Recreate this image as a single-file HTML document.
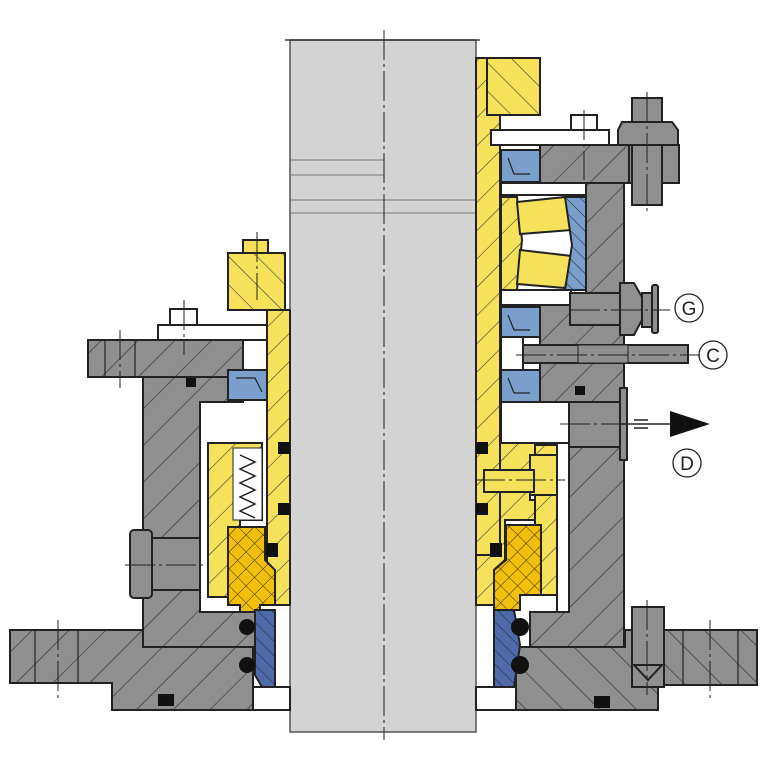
<!DOCTYPE html>
<html><head><meta charset="utf-8"><style>html,body{margin:0;padding:0;background:#fff}svg{display:block}</style></head>
<body>
<svg width="768" height="768" viewBox="0 0 768 768" xmlns="http://www.w3.org/2000/svg" font-family="Liberation Sans, sans-serif">
<defs>
<pattern id="hg" width="26" height="26" patternUnits="userSpaceOnUse" patternTransform="rotate(45)"><rect width="26" height="26" fill="#8f8f8f"/><line x1="0" y1="0" x2="0" y2="26" stroke="#333" stroke-width="1.3"/></pattern>
<pattern id="hg2" width="26" height="26" patternUnits="userSpaceOnUse" patternTransform="rotate(-45)"><rect width="26" height="26" fill="#8f8f8f"/><line x1="0" y1="0" x2="0" y2="26" stroke="#333" stroke-width="1.3"/></pattern>
<pattern id="hy" width="20" height="20" patternUnits="userSpaceOnUse" patternTransform="rotate(45)"><rect width="20" height="20" fill="#f6e15a"/><line x1="0" y1="0" x2="0" y2="20" stroke="#333" stroke-width="1.1"/></pattern>
<pattern id="hy2" width="20" height="20" patternUnits="userSpaceOnUse" patternTransform="rotate(-45)"><rect width="20" height="20" fill="#f6e15a"/><line x1="0" y1="0" x2="0" y2="20" stroke="#333" stroke-width="1.1"/></pattern>
<pattern id="hb" width="10" height="10" patternUnits="userSpaceOnUse" patternTransform="rotate(-45)"><rect width="10" height="10" fill="#4f6aa8"/><line x1="0" y1="0" x2="0" y2="10" stroke="#223" stroke-width="1"/></pattern>
<pattern id="hbl" width="10" height="10" patternUnits="userSpaceOnUse" patternTransform="rotate(-45)"><rect width="10" height="10" fill="#7b9fcc"/><line x1="0" y1="0" x2="0" y2="10" stroke="#223" stroke-width="1"/></pattern>
<pattern id="xo" width="12" height="12" patternUnits="userSpaceOnUse" patternTransform="rotate(45)"><rect width="12" height="12" fill="#f2c00a"/><line x1="0" y1="0" x2="0" y2="12" stroke="#3a2a00" stroke-width="1"/><line x1="0" y1="0" x2="12" y2="0" stroke="#3a2a00" stroke-width="1"/></pattern>
</defs>
<g stroke="#222" stroke-width="2" stroke-linejoin="miter">
<rect x="290" y="40" width="186" height="692" fill="#d3d3d3" stroke="#555" stroke-width="1.5"/>
<line x1="285" y1="40" x2="480" y2="40" stroke-width="1.2"/>
<line x1="290" y1="200" x2="476" y2="200" stroke="#777" stroke-width="1"/>
<line x1="290" y1="213" x2="476" y2="213" stroke="#777" stroke-width="1"/>
<line x1="290" y1="160" x2="384" y2="160" stroke="#777" stroke-width="1"/>
<line x1="290" y1="175" x2="384" y2="175" stroke="#777" stroke-width="1"/>

<path d="M10 630 H253 V710 H112 V683 H10 Z" fill="url(#hg)"/>
<line x1="35" y1="630" x2="35" y2="683" stroke-width="1.2"/><line x1="78" y1="630" x2="78" y2="683" stroke-width="1.2"/>
<rect x="158" y="694" width="16" height="12" fill="#111" stroke="none"/>
<path d="M143 377 H243 V402 H200 V612 H255 V647 H143 Z" fill="url(#hg)"/>
<path d="M88 340 H243 V377 H88 Z" fill="url(#hg)"/>
<line x1="105" y1="340" x2="105" y2="377" stroke-width="1.2"/><line x1="135" y1="340" x2="135" y2="377" stroke-width="1.2"/>
<rect x="186" y="378" width="10" height="9" fill="#111" stroke="none"/>
<rect x="158" y="325" width="119" height="15" fill="#fff"/>
<rect x="170" y="309" width="27" height="16" fill="#fff"/>
<rect x="130" y="530" width="22" height="68" rx="4" fill="#8f8f8f"/>
<rect x="152" y="538" width="48" height="52" fill="#8f8f8f"/>
<path d="M267 310 H290 V605 H267 Z" fill="url(#hy)"/>
<rect x="228" y="253" width="57" height="57" fill="url(#hy2)"/>
<rect x="243" y="240" width="25" height="13" fill="#f6e15a"/>
<rect x="228" y="370" width="39" height="30" fill="#7b9fcc"/>
<polyline points="236,378 255,378 262,392" fill="none" stroke-width="1.2"/>
<path d="M208 443 H262 V520 H240 V597 H208 Z" fill="url(#hy)"/>
<rect x="233" y="448" width="29" height="72" fill="#fff" stroke-width="1"/>
<polyline points="240,455 255,462 240,469 255,476 240,483 255,490 240,497 255,504 240,511 255,518" fill="none" stroke-width="1.5"/>
<path d="M228 527 H265 V560 L275 570 V605 H260 V612 H240 V605 H228 Z" fill="url(#xo)"/>
<rect x="278" y="442" width="12" height="12" fill="#111" stroke="none"/>
<rect x="278" y="503" width="12" height="12" fill="#111" stroke="none"/>
<rect x="266" y="543" width="12" height="14" fill="#111" stroke="none"/>
<path d="M255 610 H275 V687 H262 L255 675 Z" fill="url(#hb)"/>
<circle cx="247" cy="627" r="8" fill="#111" stroke="none"/>
<circle cx="247" cy="665" r="8" fill="#111" stroke="none"/>
<rect x="253" y="687" width="37" height="23" fill="#fff"/>

<path d="M476 58 H487 V115 H500 V555 H476 Z" fill="url(#hy)"/>
<rect x="487" y="58" width="53" height="57" fill="url(#hy2)"/>
<rect x="491" y="130" width="118" height="15" fill="#fff"/>
<rect x="571" y="115" width="26" height="15" fill="#fff"/>
<path d="M540 145 H629 V183 H540 Z" fill="url(#hg)"/>
<rect x="501" y="150" width="39" height="32" fill="#7b9fcc"/>
<polyline points="508,158 514,174 530,174" fill="none" stroke-width="1.2"/>
<path d="M586 183 H624 V647 H530 V612 H569 V402 H540 V370 H540 V305 H586 Z" fill="url(#hg)"/>
<rect x="501" y="183" width="85" height="12" fill="#fff"/>
<rect x="501" y="290" width="70" height="15" fill="#fff"/>
<path d="M501 197 H517 L522 240 L517 290 H501 Z" fill="url(#hy)"/>
<polygon points="517,202 565,197 572,230 520,234" fill="#f6e15a"/>
<polygon points="520,250 572,256 565,288 517,284" fill="#f6e15a"/>
<path d="M565 197 H586 V290 H565 L572 245 Z" fill="url(#hbl)"/>
<rect x="501" y="307" width="39" height="30" fill="#7b9fcc"/>
<polyline points="508,315 514,330 530,330" fill="none" stroke-width="1.2"/>
<rect x="501" y="337" width="22" height="33" fill="#fff"/>
<rect x="501" y="370" width="39" height="32" fill="#7b9fcc"/>
<polyline points="508,378 514,393 530,393" fill="none" stroke-width="1.2"/>
<rect x="523" y="345" width="165" height="18" fill="#8f8f8f"/>
<rect x="578" y="345" width="50" height="18" fill="#8f8f8f" stroke-width="1"/>
<rect x="570" y="293" width="50" height="32" fill="#8f8f8f"/>
<polygon points="620,283 634,283 642,297 642,320 634,335 620,335" fill="#8f8f8f"/>
<rect x="642" y="293" width="10" height="34" fill="#8f8f8f"/>
<rect x="652" y="285" width="6" height="48" rx="2" fill="#8f8f8f"/>
<rect x="569" y="402" width="51" height="45" fill="#8f8f8f"/>
<rect x="620" y="388" width="7" height="72" fill="#8f8f8f"/>
<rect x="575" y="386" width="10" height="9" fill="#111" stroke="none"/>
<rect x="501" y="402" width="68" height="41" fill="#fff"/>
<path d="M476 555 H500 V443 H535 V470 H530 V500 H535 V520 H505 V560 L494 570 V605 H476 Z" fill="url(#hy)"/>
<rect x="535" y="445" width="22" height="150" fill="url(#hy)"/>
<rect x="530" y="455" width="30" height="40" fill="#f6e15a"/>
<rect x="484" y="470" width="50" height="22" fill="#f6e15a"/>
<rect x="557" y="443" width="12" height="169" fill="#fff"/>
<rect x="476" y="442" width="12" height="12" fill="#111" stroke="none"/>
<rect x="476" y="503" width="12" height="12" fill="#111" stroke="none"/>
<rect x="490" y="543" width="12" height="14" fill="#111" stroke="none"/>
<path d="M506 525 H541 V595 H520 V610 H494 V570 L506 560 Z" fill="url(#xo)"/>
<path d="M516 647 H625 V630 H757 V685 H658 V710 H516 Z" fill="url(#hg2)"/>
<line x1="683" y1="630" x2="683" y2="685" stroke-width="1.2"/><line x1="738" y1="630" x2="738" y2="685" stroke-width="1.2"/>
<rect x="632" y="607" width="32" height="80" fill="#8f8f8f"/>
<polygon points="634,665 662,665 648,680" fill="#8f8f8f"/>
<rect x="594" y="696" width="16" height="12" fill="#111" stroke="none"/>
<path d="M494 610 H514 L520 645 L514 687 H494 Z" fill="url(#hb)"/>
<circle cx="520" cy="627" r="9" fill="#111" stroke="none"/>
<circle cx="520" cy="665" r="9" fill="#111" stroke="none"/>
<rect x="476" y="687" width="40" height="23" fill="#fff"/>
<rect x="632" y="98" width="30" height="107" fill="#8f8f8f"/>
<polygon points="622,122 672,122 678,130 678,145 618,145 618,130" fill="#8f8f8f"/>
<rect x="629" y="145" width="50" height="38" fill="#8f8f8f"/>
<rect x="632" y="145" width="30" height="60" fill="#8f8f8f"/>
</g>
<g stroke="#222" stroke-width="1" stroke-dasharray="30,4,3,4" fill="none">
<line x1="384" y1="30" x2="384" y2="740"/>
<line x1="257" y1="232" x2="257" y2="300"/>
<line x1="184" y1="300" x2="184" y2="355"/>
<line x1="120" y1="330" x2="120" y2="388"/>
<line x1="58" y1="620" x2="58" y2="700"/>
<line x1="584" y1="110" x2="584" y2="180"/>
<line x1="647" y1="92" x2="647" y2="212"/>
<line x1="647" y1="600" x2="647" y2="695"/>
<line x1="710" y1="620" x2="710" y2="700"/>
<line x1="125" y1="565" x2="205" y2="565"/>
<line x1="560" y1="424" x2="620" y2="424"/>
<line x1="570" y1="310" x2="670" y2="310"/>
<line x1="516" y1="355" x2="700" y2="355"/>
<line x1="475" y1="480" x2="565" y2="480"/>
</g>
<line x1="620" y1="424" x2="672" y2="424" stroke="#222" stroke-width="1.5"/>
<line x1="634" y1="420" x2="648" y2="420" stroke="#222" stroke-width="1.5"/>
<line x1="634" y1="428" x2="648" y2="428" stroke="#222" stroke-width="1.5"/>
<polygon points="670,411 710,424 670,437" fill="#111"/>
<g fill="none" stroke="#222" stroke-width="1.3">
<ellipse cx="689" cy="308" rx="14" ry="14"/>
<ellipse cx="713" cy="355" rx="14" ry="14"/>
<ellipse cx="687" cy="463" rx="14" ry="14"/>
</g>
<g font-size="19" fill="#222" text-anchor="middle">
<text x="689" y="315">G</text>
<text x="713" y="362">C</text>
<text x="687" y="470">D</text>
</g>
</svg>
</body></html>
